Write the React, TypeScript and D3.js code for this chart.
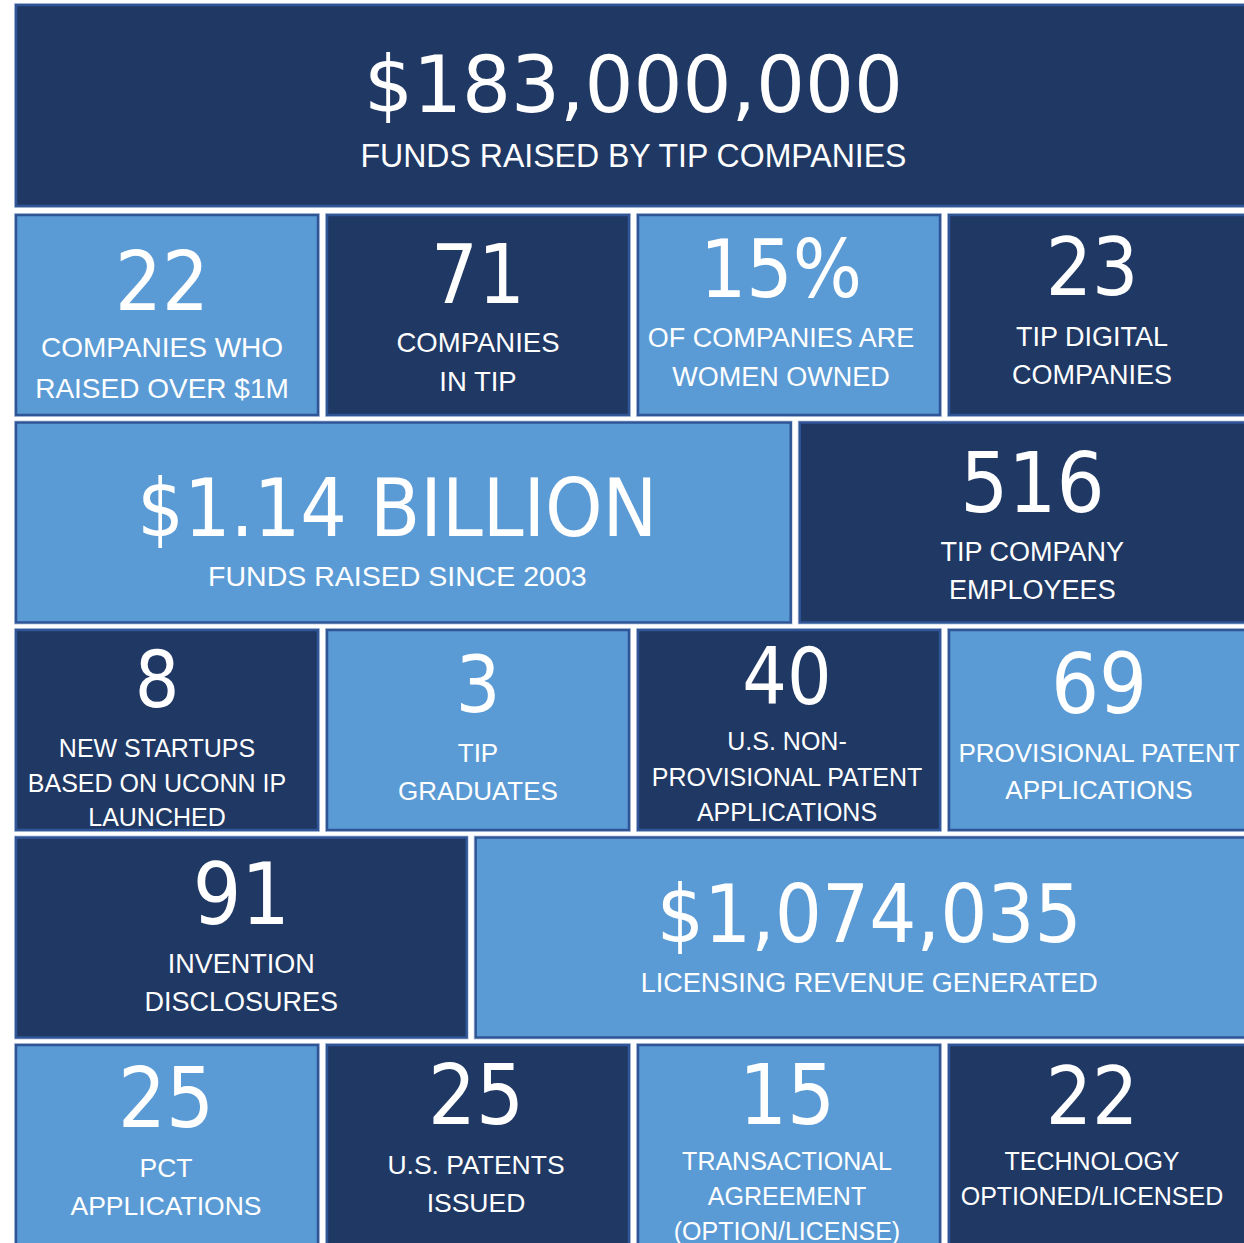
import React from "react";
import * as d3 from "d3";

const values = [
  "$183,000,000",
  "22", "71", "15%", "23",
  "$1.14 BILLION", "516",
  "8", "3", "40", "69",
  "91", "$1,074,035",
  "25", "25", "15", "22",
];

const labels = [
  ["FUNDS RAISED BY TIP COMPANIES"],
  ["COMPANIES WHO", "RAISED OVER $1M"],
  ["COMPANIES", "IN TIP"],
  ["OF COMPANIES ARE", "WOMEN OWNED"],
  ["TIP DIGITAL", "COMPANIES"],
  ["FUNDS RAISED SINCE 2003"],
  ["TIP COMPANY", "EMPLOYEES"],
  ["NEW STARTUPS", "BASED ON UCONN IP", "LAUNCHED"],
  ["TIP", "GRADUATES"],
  ["U.S. NON-", "PROVISIONAL PATENT", "APPLICATIONS"],
  ["PROVISIONAL PATENT", "APPLICATIONS"],
  ["INVENTION", "DISCLOSURES"],
  ["LICENSING REVENUE GENERATED"],
  ["PCT", "APPLICATIONS"],
  ["U.S. PATENTS", "ISSUED"],
  ["TRANSACTIONAL", "AGREEMENT", "(OPTION/LICENSE)"],
  ["TECHNOLOGY", "OPTIONED/LICENSED"],
];

const tones = [
  "dark",
  "light", "dark", "light", "dark",
  "light", "dark",
  "dark", "light", "dark", "light",
  "dark", "light",
  "light", "dark", "light", "dark",
];

// mosaic layout: row, column span (in quarter units), text placement
type Cell = {
  row: number; u0: number; u1: number; dx: number;
  numY: number; numSize: number; numW?: number;
  lineY: number; gap: number; lineSize: number; lineW?: number;
};

const layout: Cell[] = [
  { row: 0, u0: 0, u1: 4, dx: 0, numY: 107, numSize: 78, numW: 539, lineY: 162, gap: 0, lineSize: 34, lineW: 546 },
  { row: 1, u0: 0, u1: 1, dx: -5, numY: 95, numSize: 82, lineY: 142, gap: 41, lineSize: 28 },
  { row: 1, u0: 1, u1: 2, dx: 0, numY: 88, numSize: 82, lineY: 137, gap: 39, lineSize: 27.5 },
  { row: 1, u0: 2, u1: 3, dx: -8, numY: 82, numSize: 81, lineY: 132, gap: 39, lineSize: 27 },
  { row: 1, u0: 3, u1: 4, dx: -8, numY: 80, numSize: 81, lineY: 131, gap: 38, lineSize: 27 },
  { row: 2, u0: 0, u1: 2.52, dx: -6, numY: 113.5, numSize: 81, numW: 520, lineY: 163.5, gap: 0, lineSize: 28.5 },
  { row: 2, u0: 2.52, u1: 4, dx: 7, numY: 89.5, numSize: 84, lineY: 138.5, gap: 38, lineSize: 27 },
  { row: 3, u0: 0, u1: 1, dx: -10, numY: 77, numSize: 78, lineY: 127, gap: 34.5, lineSize: 25 },
  { row: 3, u0: 1, u1: 2, dx: 0, numY: 82, numSize: 78, lineY: 132, gap: 38, lineSize: 26 },
  { row: 3, u0: 2, u1: 3, dx: -2, numY: 74, numSize: 78, lineY: 120, gap: 35.5, lineSize: 25 },
  { row: 3, u0: 3, u1: 4, dx: -1, numY: 83, numSize: 84, lineY: 132, gap: 37, lineSize: 26 },
  { row: 4, u0: 0, u1: 1.478, dx: 0, numY: 86.5, numSize: 85, lineY: 135.5, gap: 38, lineSize: 27 },
  { row: 4, u0: 1.478, u1: 4, dx: 6, numY: 104.5, numSize: 81, numW: 425, lineY: 154.5, gap: 0, lineSize: 27 },
  { row: 5, u0: 0, u1: 1, dx: -1, numY: 82, numSize: 84, lineY: 132, gap: 38, lineSize: 26.5 },
  { row: 5, u0: 1, u1: 2, dx: -2, numY: 79, numSize: 84, lineY: 129, gap: 38, lineSize: 26.5 },
  { row: 5, u0: 2, u1: 3, dx: -2, numY: 79, numSize: 84, lineY: 125, gap: 35, lineSize: 25 },
  { row: 5, u0: 3, u1: 4, dx: -8, numY: 79, numSize: 81, lineY: 125, gap: 35, lineSize: 25 },
];

const W = 1244;
const H = 1243;
const GAP = 9;
const fill: Record<string, string> = { dark: "#203864", light: "#5b9bd5" };
const numFont = "'DejaVu Sans Condensed', 'DejaVu Sans', sans-serif";
const labelFont = "'Liberation Sans', Arial, sans-serif";

export default function App() {
  const x = d3.scaleLinear().domain([0, 4]).range([16, 1260]);
  const y = d3.scaleLinear().domain([1, 5]).range([215, 1045]);

  return (
    <svg
      width={W}
      height={H}
      viewBox={`0 0 ${W} ${H}`}
      style={{ position: "absolute", left: 0, top: 0, background: "#fff", display: "block" }}
    >
      {layout.map((c, i) => {
        const x0 = x(c.u0);
        const x1 = x(c.u1) - GAP;
        const y0 = c.row === 0 ? 5 : y(c.row);
        const y1 = c.row === 0 ? y(1) - GAP : y0 + 200;
        const cx = (x0 + x1) / 2 + c.dx;
        return (
          <g key={i}>
            <rect x={x0 - 1.5} y={y0 - 1.5} width={x1 - x0 + 3} height={y1 - y0 + 3}
              fill="none" stroke="#c6d0e4" strokeWidth={1} />
            <rect x={x0} y={y0} width={x1 - x0} height={y1 - y0}
              fill={fill[tones[i]]} stroke="#2f5597" strokeWidth={2.5} />
            <text x={cx} y={y0 + c.numY} textAnchor="middle" fill="#fff"
              fontFamily={numFont} fontStretch="condensed" fontSize={c.numSize}
              textLength={c.numW} lengthAdjust={c.numW ? "spacingAndGlyphs" : undefined}>
              {values[i]}
            </text>
            {labels[i].map((line, j) => (
              <text key={j} x={cx} y={y0 + c.lineY + j * c.gap} textAnchor="middle" fill="#fff"
                fontFamily={labelFont} fontSize={c.lineSize}
                textLength={c.lineW} lengthAdjust={c.lineW ? "spacingAndGlyphs" : undefined}>
                {line}
              </text>
            ))}
          </g>
        );
      })}
    </svg>
  );
}
